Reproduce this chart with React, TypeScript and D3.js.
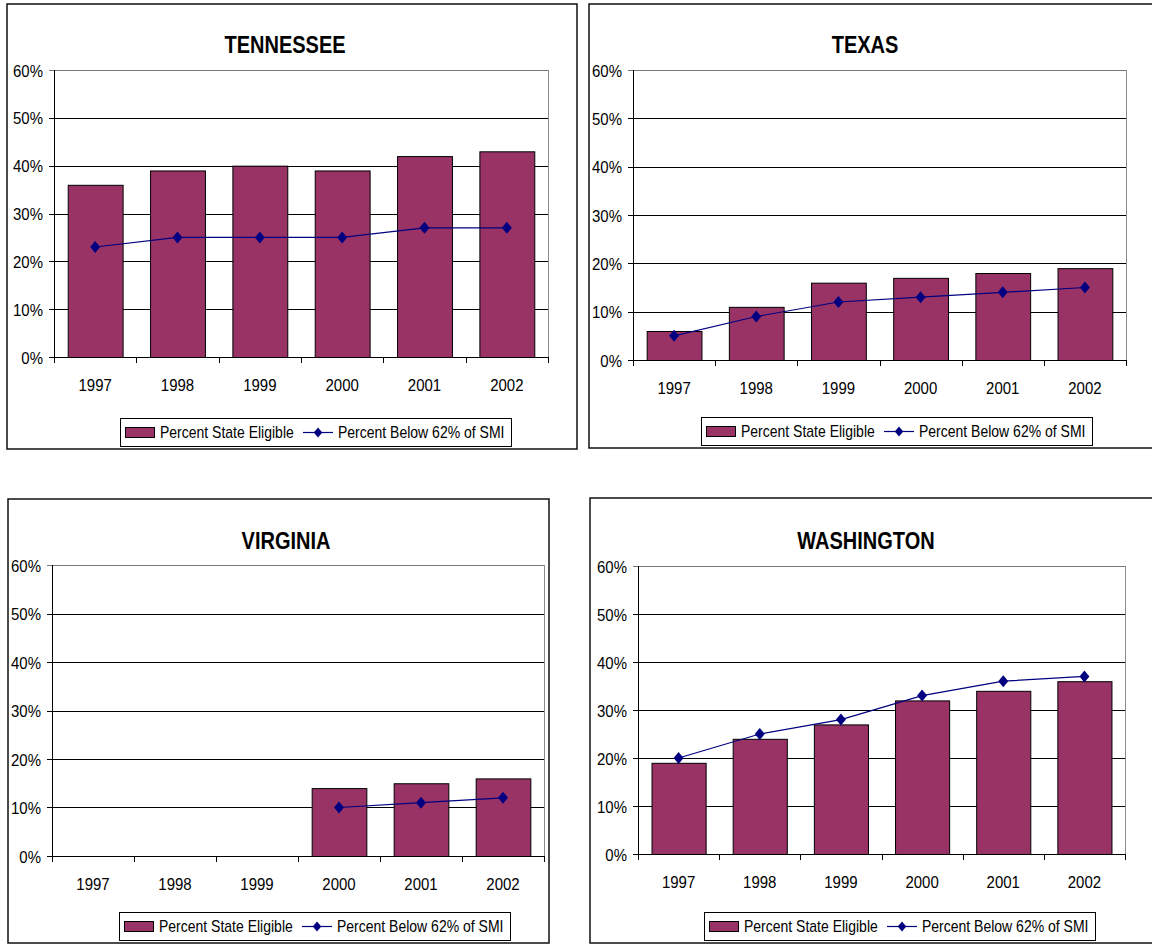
import * as d3 from 'd3'

const years = ['1997', '1998', '1999', '2000', '2001', '2002']
const yTicks = [0, 0.1, 0.2, 0.3, 0.4, 0.5, 0.6]

// percent values, null = no data
const tnEligible = [36, 39, 40, 39, 42, 43]
const tnBelow = [23, 25, 25, 25, 27, 27]
const txEligible = [6, 11, 16, 17, 18, 19]
const txBelow = [5, 9, 12, 13, 14, 15]
const vaEligible: (number | null)[] = [null, null, null, 14, 15, 16]
const vaBelow: (number | null)[] = [null, null, null, 10, 11, 12]
const waEligible = [19, 24, 27, 32, 34, 36]
const waBelow = [20, 25, 28, 33, 36, 37]

const BAR_FILL = '#993366'
const LINE_COLOR = '#000080'
const FONT = '"Liberation Sans", Arial, sans-serif'

type Panel = {
  title: string
  eligible: (number | null)[]
  below: (number | null)[]
  box: { x: number; y: number; w: number; h: number }
  plot: { left: number; right: number; top: number; bottom: number }
  titlePos: { x: number; y: number }
  legend: { x: number; y: number }
}

const panels: Panel[] = [
  {
    title: 'TENNESSEE', eligible: tnEligible, below: tnBelow,
    box: { x: 7, y: 4, w: 570, h: 445 },
    plot: { left: 54, right: 548, top: 70, bottom: 357 },
    titlePos: { x: 285, y: 53 },
    legend: { x: 120, y: 418 },
  },
  {
    title: 'TEXAS', eligible: txEligible, below: txBelow,
    box: { x: 589, y: 4, w: 600, h: 444 },
    plot: { left: 633, right: 1126, top: 70, bottom: 360 },
    titlePos: { x: 865, y: 53 },
    legend: { x: 701, y: 417 },
  },
  {
    title: 'VIRGINIA', eligible: vaEligible, below: vaBelow,
    box: { x: 8, y: 499, w: 541, h: 444 },
    plot: { left: 52, right: 544, top: 565, bottom: 856 },
    titlePos: { x: 286, y: 549 },
    legend: { x: 119, y: 912 },
  },
  {
    title: 'WASHINGTON', eligible: waEligible, below: waBelow,
    box: { x: 590, y: 498, w: 600, h: 445 },
    plot: { left: 638, right: 1125, top: 566, bottom: 854 },
    titlePos: { x: 866, y: 549 },
    legend: { x: 704, y: 912 },
  },
]

// slightly tall diamond marker like the Excel one
const diamond = 'M0,-6L5,0L0,6L-5,0Z'

// text stretched vertically, the original font is narrower/taller than Arial
function SText({ x, y, size, sy = 1.15, anchor = 'start', bold = false, children }: {
  x: number; y: number; size: number; sy?: number; anchor?: string; bold?: boolean; children: string
}) {
  return (
    <text transform={`translate(${x},${y}) scale(1,${sy})`} textAnchor={anchor as any}
      fontFamily={FONT} fontSize={size} fontWeight={bold ? 'bold' : 'normal'} fill="#000">
      {children}
    </text>
  )
}

function ChartPanel({ p }: { p: Panel }) {
  const { plot } = p
  const x = d3.scaleBand<string>()
    .domain(years)
    .range([plot.left, plot.right])
    .paddingInner(1 / 3)
    .paddingOuter(1 / 6)
  const y = d3.scaleLinear().domain([0, 0.6]).range([plot.bottom, plot.top])
  const step = (plot.right - plot.left) / years.length
  const cx = (i: number) => x(years[i])! + x.bandwidth() / 2

  const pts = p.below.map((v, i) => ({ i, v }))
  const line = d3.line<{ i: number; v: number | null }>()
    .defined(d => d.v !== null)
    .x(d => cx(d.i))
    .y(d => y((d.v as number) / 100))

  const lg = p.legend
  return (
    <g>
      <rect x={p.box.x} y={p.box.y} width={p.box.w} height={p.box.h}
        fill="#fff" stroke="#111" strokeWidth={1.5} />
      <SText x={p.titlePos.x} y={p.titlePos.y} size={20} sy={1.2} anchor="middle" bold>{p.title}</SText>

      {/* plot area border */}
      <rect x={plot.left + 0.5} y={y(0.6) + 0.5} width={plot.right - plot.left}
        height={plot.bottom - plot.top} fill="none" stroke="#8c8c8c" />

      {/* gridlines + y ticks */}
      {yTicks.map(t => (
        <g key={t}>
          <line x1={plot.left - 5} x2={plot.right} y1={Math.round(y(t)) + 0.5} y2={Math.round(y(t)) + 0.5}
            stroke={t === 0.6 ? '#777' : '#000'} />
          <SText x={plot.left - 11} y={y(t) + 6.5} size={15} anchor="end">{`${Math.round(t * 100)}%`}</SText>
        </g>
      ))}

      {/* bars */}
      {p.eligible.map((v, i) => v === null ? null : (
        <rect key={i} x={x(years[i])! + 0.5} y={y(v / 100) + 0.5} width={x.bandwidth()}
          height={y(0) - y(v / 100)} fill={BAR_FILL} stroke="#000" strokeWidth={1} />
      ))}

      {/* axes */}
      <line x1={plot.left + 0.5} x2={plot.left + 0.5} y1={plot.top} y2={plot.bottom + 6} stroke="#000" />
      <line x1={plot.left} x2={plot.right + 1} y1={Math.round(y(0)) + 0.5} y2={Math.round(y(0)) + 0.5} stroke="#000" />
      {d3.range(years.length + 1).map(k => (
        <line key={k} x1={Math.round(plot.left + k * step) + 0.5} x2={Math.round(plot.left + k * step) + 0.5}
          y1={plot.bottom} y2={plot.bottom + 6} stroke="#000" />
      ))}
      {years.map((yr, i) => (
        <SText key={yr} x={cx(i)} y={plot.bottom + 34} size={15} anchor="middle">{yr}</SText>
      ))}

      {/* line series */}
      <path d={line(pts) ?? ''} fill="none" stroke={LINE_COLOR} strokeWidth={1.2} />
      {pts.map(d => d.v === null ? null : (
        <path key={d.i} d={diamond} fill={LINE_COLOR}
          transform={`translate(${cx(d.i)},${y(d.v / 100)})`} />
      ))}

      {/* legend */}
      <rect x={lg.x + 0.5} y={lg.y + 0.5} width={391} height={28} fill="#fff" stroke="#000" />
      <rect x={lg.x + 5.5} y={lg.y + 9.5} width={29} height={10} fill={BAR_FILL} stroke="#000" />
      <SText x={lg.x + 40} y={lg.y + 20} size={14}>Percent State Eligible</SText>
      <line x1={lg.x + 183} x2={lg.x + 213} y1={lg.y + 14.5} y2={lg.y + 14.5} stroke={LINE_COLOR} strokeWidth={1.2} />
      <path d={diamond} fill={LINE_COLOR} transform={`translate(${lg.x + 198},${lg.y + 14.5}) scale(0.85)`} />
      <SText x={lg.x + 218} y={lg.y + 20} size={14}>Percent Below 62% of SMI</SText>
    </g>
  )
}

export default function App() {
  return (
    <svg width={1152} height={944}
      style={{ position: 'absolute', left: 0, top: 0, display: 'block', background: '#fff' }}>
      <rect width={1152} height={944} fill="#fff" />
      {panels.map(p => <ChartPanel key={p.title} p={p} />)}
    </svg>
  )
}
